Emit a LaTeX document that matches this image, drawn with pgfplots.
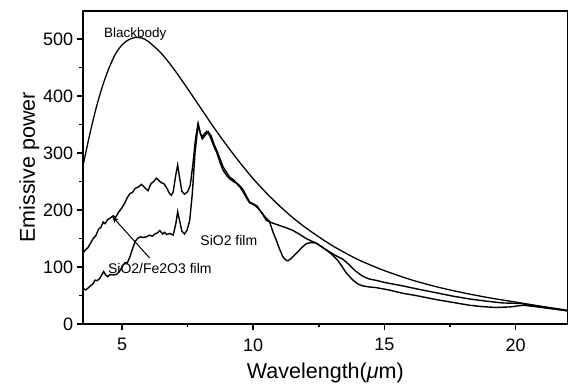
\documentclass[border=0pt]{standalone}
\usepackage{fontspec}
\setmainfont{Liberation Sans}
\usepackage{pgfplots}
\pgfplotsset{compat=1.18}
\usetikzlibrary{arrows.meta}
\begin{document}
\begin{tikzpicture}
\useasboundingbox (-82.7pt,-63pt) rectangle (485.3pt,324pt);
\begin{axis}[
  scale only axis,
  width=485.3pt, height=313.3pt,
  xmin=3.5, xmax=22, ymin=0, ymax=550,
  axis line style={line width=2.2pt},
  xtick={5,10,15,20}, minor xtick={7.5,12.5,17.5},
  ytick={0,100,200,300,400,500}, minor ytick={50,150,250,350,450},
  xtick pos=left, ytick pos=left,
  tick align=outside,
  major tick length=6pt, minor tick length=3.5pt,
  every tick/.style={line width=1.6pt, black},
  /pgf/number format/assume math mode=true,
  tick label style={font=\fontsize{18}{18}\selectfont},
  xticklabel style={yshift=-5pt},
  xlabel={Wavelength(\textit{μ}m)},
  ylabel={Emissive power},
  label style={font=\fontsize{21.5}{21.5}\selectfont},
  x label style={at={(axis description cs:0.5,-0.112)}, anchor=north},
  y label style={at={(axis description cs:-0.11,0.5)}, anchor=center, rotate=0},
]
% Blackbody
\addplot[black, line width=1.3pt, smooth] coordinates {
(3.5,275) (3.75,329) (4,377) (4.25,417) (4.5,449) (4.75,474) (5,490) (5.25,499)
(5.5,503) (5.75,502) (6,496) (6.5,475) (7,446) (7.5,413) (8,379) (8.5,345)
(9,313) (9.5,283) (10,255) (10.5,230) (11,207.5) (11.5,187) (12,169) (12.5,153)
(13,138) (13.5,125) (14,113) (14.5,103) (15,93.7) (16,77.9) (17,65.2) (18,54.8)
(19,46) (20,38.5) (21,31) (22,24)
};
% SiO2/Fe2O3 film
\addplot[black, line width=1.4pt] coordinates {
(3.5,124) (3.6,130) (3.7,134) (3.8,142) (3.9,150) (4.0,155) (4.1,166) (4.2,170)
(4.28,179) (4.35,176) (4.45,183) (4.55,186) (4.66,190) (4.75,187) (4.85,195)
(4.98,203) (5.1,212) (5.2,222) (5.3,229) (5.4,231) (5.5,238) (5.6,240) (5.74,245)
(5.85,240) (5.99,234) (6.1,246) (6.2,250) (6.31,256) (6.4,252) (6.5,248) (6.6,246)
(6.7,239) (6.8,230) (6.88,226) (6.95,232) (7.05,262) (7.12,279) (7.2,255)
(7.28,233) (7.38,228) (7.5,232) (7.6,244) (7.7,280) (7.8,325) (7.9,352) (7.98,336)
(8.05,328) (8.12,333) (8.22,338) (8.35,330) (8.5,312) (8.6,302) (8.75,282)
(8.85,270) (9.0,260) (9.1,255) (9.25,250) (9.36,247) (9.5,240) (9.61,232)
(9.75,221) (9.86,213) (10.0,210) (10.12,206) (10.3,197) (10.5,182) (10.75,177)
(11.0,173) (11.25,169) (11.5,164.5) (11.75,158) (12.02,150) (12.2,146) (12.4,142)
(12.65,134) (12.9,127) (13.15,120) (13.41,114) (13.66,104) (13.9,93) (14.17,84)
(14.42,79) (14.7,76.5) (15.0,73) (15.69,67) (16.3,61) (16.96,55) (17.6,49)
(18.23,44) (18.9,40) (19.5,37) (20.2,36) (21,30) (22,23)
};
% SiO2 film
\addplot[black, line width=1.4pt] coordinates {
(3.5,66) (3.55,61) (3.62,60) (3.7,63) (3.8,67) (3.9,71) (3.97,77) (4.05,76)
(4.15,80) (4.25,88) (4.3,92) (4.38,86) (4.45,83) (4.55,87) (4.65,86) (4.79,87)
(4.9,92) (5.04,103) (5.12,108) (5.2,107) (5.3,118) (5.4,132) (5.5,145) (5.61,151)
(5.7,153) (5.8,152) (5.93,153) (6.05,156) (6.15,154) (6.25,158) (6.35,160)
(6.44,164) (6.55,158) (6.62,161) (6.7,157) (6.82,159) (6.95,156) (7.05,176)
(7.12,197) (7.2,180) (7.28,163) (7.38,158) (7.48,165) (7.58,182) (7.68,230)
(7.78,300) (7.9,350) (7.98,335) (8.06,325) (8.15,330) (8.28,338) (8.4,330)
(8.5,316) (8.6,306) (8.75,288) (8.85,276) (9.0,265) (9.1,258) (9.25,253)
(9.36,248) (9.5,242) (9.61,236) (9.75,224) (9.86,214) (10.0,211) (10.15,207)
(10.3,197) (10.45,188) (10.62,180) (10.75,162) (10.88,147) (11.0,132) (11.13,118)
(11.25,112) (11.32,111) (11.45,115) (11.64,124) (11.85,134) (12.02,141) (12.2,143)
(12.4,142) (12.6,136) (12.78,130) (13.0,122) (13.22,112) (13.4,100) (13.54,90)
(13.8,77) (14.0,70) (14.17,67) (14.42,65) (14.67,64) (15.2,59.5) (15.69,54)
(16.2,50) (16.96,43) (17.47,39) (18.23,33) (18.73,30.5) (19.26,29) (19.8,30)
(20.3,33) (21,29) (22,23)
};
\node[font=\fontsize{13.5}{13.5}\selectfont] at (axis cs:5.5,509) {Blackbody};
\node[font=\fontsize{14}{14}\selectfont] at (axis cs:9.07,147) {SiO2 film};
\node[font=\fontsize{14}{14}\selectfont] at (axis cs:6.44,98) {SiO2/Fe2O3 film};
\draw[-{Stealth[length=7pt,width=5pt]}, line width=1pt] (axis cs:6.05,116) -- (axis cs:4.62,189);
\end{axis}
\end{tikzpicture}
\end{document}
